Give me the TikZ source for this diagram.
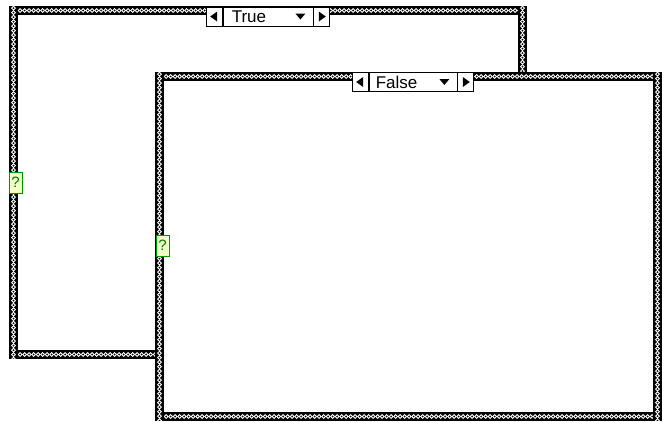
\documentclass[tikz,border=0pt]{standalone}
\usepackage{fontspec}
\setmainfont{Liberation Sans}
\usetikzlibrary{positioning}
\definecolor{termgreen}{RGB}{0,150,0}
\definecolor{termfill}{RGB}{240,255,200}

% chain border, horizontal: first x, next x, last x, top y
\newcommand{\chainh}[4]{%
  \fill[black] (#1,#4) rectangle (#3,#4+9);
  \begin{scope}
    \clip (#1,#4) rectangle (#3,#4+9);
    \foreach \cx in {#1,#2,...,#3}
      \draw[white,line width=0.9] (\cx+2.2,#4+4.5) circle (1.9);
  \end{scope}}
% chain border, vertical: first y, next y, last y, left x
\newcommand{\chainv}[4]{%
  \fill[black] (#4,#1) rectangle (#4+9,#3);
  \begin{scope}
    \clip (#4,#1) rectangle (#4+9,#3);
    \foreach \cy in {#1,#2,...,#3}
      \draw[white,line width=0.9] (#4+4.5,\cy+2.2) circle (1.9);
  \end{scope}}

\begin{document}
\begin{tikzpicture}[x=1pt,y=-1pt,
  selfield/.style={draw=black,line width=0.8,fill=white,minimum height=19,inner sep=0pt},
  selarrow/.style={draw=black,line width=0.8,fill=white,minimum width=16,minimum height=19,inner sep=0pt},
  seltext/.style={anchor=west,inner sep=0pt,font=\fontsize{17}{17}\selectfont},
  term/.style={draw=termgreen,line width=1,fill=termfill,minimum width=13,minimum height=21,
    inner sep=0pt,text=termgreen!80!black,font=\fontsize{15}{15}\selectfont}]
\useasboundingbox (0,0) rectangle (662,421);

% True case (behind)
\chainh{9}{13.5}{527}{6}
\chainh{9}{13.5}{527}{350}
\chainv{6}{10.5}{359}{9}
\chainv{6}{10.5}{359}{518}

% True selector
\node[selfield,minimum width=90] (truefield) at (268,16.5) {};
\node[selarrow,left=0pt of truefield] (trueprev) {};
\node[selarrow,right=0pt of truefield] (truenext) {};
\node[seltext] (truetext) at ([xshift=9]truefield.west) {True};
\fill (trueprev.center) ++(-4,0) -- ++(7,-5) -- ++(0,10) -- cycle;
\fill (truenext.center) ++(4,0) -- ++(-7,-5) -- ++(0,10) -- cycle;
\fill ([xshift=-18]truefield.east) ++(0,-3) -- ++(10,0) -- ++(-5,6) -- cycle;

% True terminal
\node[term] (trueterm) at (15.5,182.5) {?};

% False case (front)
\fill[white] (155,72) rectangle (662,421);
\chainh{155}{159.5}{662}{72}
\chainh{155}{159.5}{662}{412}
\chainv{72}{76.5}{421}{155}
\chainv{72}{76.5}{421}{653}

% False selector
\node[selfield,minimum width=88] (falsefield) at (413,82) {};
\node[selarrow,left=0pt of falsefield] (falseprev) {};
\node[selarrow,right=0pt of falsefield] (falsenext) {};
\node[seltext] (falsetext) at ([xshift=7]falsefield.west) {False};
\fill (falseprev.center) ++(-4,0) -- ++(7,-5) -- ++(0,10) -- cycle;
\fill (falsenext.center) ++(4,0) -- ++(-7,-5) -- ++(0,10) -- cycle;
\fill ([xshift=-18]falsefield.east) ++(0,-3) -- ++(10,0) -- ++(-5,6) -- cycle;

% False terminal
\node[term] (falseterm) at (162.5,245.5) {?};
\end{tikzpicture}
\end{document}
